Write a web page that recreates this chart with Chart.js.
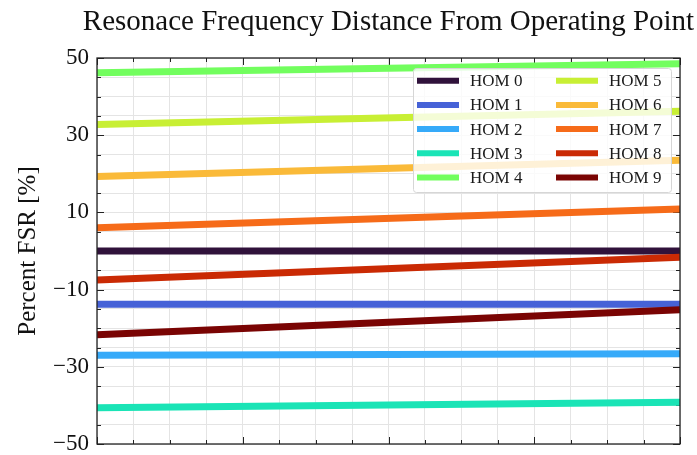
<!DOCTYPE html>
<html>
<head>
<meta charset="utf-8">
<script src="https://cdn.jsdelivr.net/npm/chart.js@4.4.1/dist/chart.umd.min.js"></script>
<style>
  html, body { margin: 0; padding: 0; background: #fff; }
  #wrap { width: 697px; height: 455px; }
</style>
</head>
<body>
<div id="wrap"><canvas id="homChart" width="697" height="455"></canvas></div>
<script>
// x positions of the sampled points (no labels on the x axis)
const xPoints = [0, 16];

// series values (left end, right end)
const hom0 = [0.0, 0.0];
const hom1 = [-13.8, -13.8];
const hom2 = [-27.0, -26.6];
const hom3 = [-40.6, -39.2];
const hom4 = [46.2, 48.5];
const hom5 = [32.8, 36.2];
const hom6 = [19.3, 23.5];
const hom7 = [6.0, 10.9];
const hom8 = [-7.5, -1.6];
const hom9 = [-21.7, -15.2];

const seriesNames = ['HOM 0', 'HOM 1', 'HOM 2', 'HOM 3', 'HOM 4', 'HOM 5', 'HOM 6', 'HOM 7', 'HOM 8', 'HOM 9'];
const seriesValues = [hom0, hom1, hom2, hom3, hom4, hom5, hom6, hom7, hom8, hom9];

// y tick labels shown on the axis
const yTickLabels = [50, 30, 10, -10, -30, -50];

// turbo colormap samples
const colors = ['#30123b', '#4662d7', '#36aaf9', '#1ae4b6', '#72fe5e',
                '#c8ef34', '#faba39', '#f66b19', '#ca2a04', '#7a0403'];

const SERIF = '"Liberation Serif", "DejaVu Serif", serif';

// title drawn over the plot area centre
const titlePlugin = {
    id: 'plotTitle',
    afterDraw(chart) {
        const { ctx, chartArea } = chart;
        ctx.save();
        ctx.font = '29px ' + SERIF;
        ctx.fillStyle = '#111';
        ctx.textAlign = 'center';
        ctx.textBaseline = 'alphabetic';
        ctx.fillText('Resonace Frequency Distance From Operating Point', (chartArea.left + chartArea.right) / 2, 30);
        ctx.restore();
    }
};

// inward ticks on all four sides, like matplotlib
const tickPlugin = {
    id: 'inTicks',
    beforeDatasetsDraw(chart) {
        const { ctx, chartArea, scales } = chart;
        ctx.save();
        ctx.strokeStyle = '#222';
        ctx.lineWidth = 1;
        ctx.beginPath();
        for (let v = -50; v <= 50; v += 5) {
            const y = Math.round(scales.y.getPixelForValue(v)) + 0.5;
            const len = ((v + 50) % 20 === 0) ? 7 : 4;
            ctx.moveTo(chartArea.left, y); ctx.lineTo(chartArea.left + len, y);
            ctx.moveTo(chartArea.right, y); ctx.lineTo(chartArea.right - len, y);
        }
        for (let v = 0; v <= 16; v += 1) {
            const x = Math.round(scales.x.getPixelForValue(v)) + 0.5;
            const len = (v % 4 === 0) ? 7 : 4;
            ctx.moveTo(x, chartArea.bottom); ctx.lineTo(x, chartArea.bottom - len);
            ctx.moveTo(x, chartArea.top); ctx.lineTo(x, chartArea.top + len);
        }
        ctx.stroke();
        ctx.restore();
    },
    afterDatasetsDraw(chart) {
        const { ctx, chartArea } = chart;
        ctx.save();
        ctx.strokeStyle = '#222';
        ctx.lineWidth = 1.3;
        ctx.strokeRect(chartArea.left, chartArea.top, chartArea.right - chartArea.left, chartArea.bottom - chartArea.top);
        ctx.restore();
    }
};

// two column legend box inside the plot
const legendPlugin = {
    id: 'twoColLegend',
    afterDraw(chart) {
        const { ctx } = chart;
        ctx.save();
        ctx.beginPath();
        ctx.roundRect(413.5, 68.5, 258, 124, 3);
        ctx.fillStyle = 'rgba(255,255,255,0.8)';
        ctx.fill();
        ctx.strokeStyle = '#d6d6d6';
        ctx.lineWidth = 1;
        ctx.stroke();
        ctx.font = '17px ' + SERIF;
        ctx.textBaseline = 'middle';
        ctx.textAlign = 'left';
        seriesNames.forEach((name, i) => {
            const col = i < 5 ? 0 : 1;
            const row = i % 5;
            const x0 = col === 0 ? 417 : 556;
            const y = 80.7 + row * 24.2;
            ctx.strokeStyle = colors[i];
            ctx.lineWidth = 6;
            ctx.lineCap = 'butt';
            ctx.beginPath();
            ctx.moveTo(x0, y);
            ctx.lineTo(x0 + 42, y);
            ctx.stroke();
            ctx.fillStyle = '#1a1a1a';
            ctx.fillText(name, x0 + 53, y + 1);
        });
        ctx.restore();
    }
};

const ctx = document.getElementById('homChart').getContext('2d');

new Chart(ctx, {
    type: 'line',
    data: {
        datasets: seriesValues.map((vals, i) => ({
            label: seriesNames[i],
            data: xPoints.map((x, j) => ({ x: x, y: vals[j] })),
            borderColor: colors[i],
            backgroundColor: colors[i],
            borderWidth: 7,
            borderCapStyle: 'butt',
            pointRadius: 0,
            tension: 0,
            fill: false,
            order: 9 - i
        }))
    },
    options: {
        responsive: false,
        animation: false,
        events: [],
        layout: { padding: { top: 58, right: 17, bottom: 11, left: 0 } },
        plugins: {
            legend: { display: false },
            title: { display: false },
            tooltip: { enabled: false }
        },
        scales: {
            x: {
                type: 'linear',
                min: 0,
                max: 16,
                afterFit(scale) { scale.height = 0; },
                ticks: { display: false, stepSize: 1 },
                grid: { color: '#e4e4e4', lineWidth: 1, drawTicks: false },
                border: { display: false }
            },
            y: {
                min: -50,
                max: 50,
                afterFit(scale) {
                    scale.width = 97;
                    scale.paddingTop = 0;
                    scale.paddingBottom = 0;
                },
                ticks: {
                    stepSize: 5,
                    autoSkip: false,
                    padding: 8,
                    color: '#111',
                    font: { family: SERIF, size: 23 },
                    callback: v => yTickLabels.includes(v) ? (v < 0 ? '\u2212' + Math.abs(v) : String(v)) : ''
                },
                grid: { color: '#e4e4e4', lineWidth: 1, drawTicks: false },
                border: { display: false },
                title: {
                    display: true,
                    text: 'Percent FSR [%]',
                    color: '#111',
                    font: { family: SERIF, size: 25 },
                    padding: { top: 13, bottom: 0 }
                }
            }
        }
    },
    plugins: [tickPlugin, titlePlugin, legendPlugin]
});
</script>
</body>
</html>
